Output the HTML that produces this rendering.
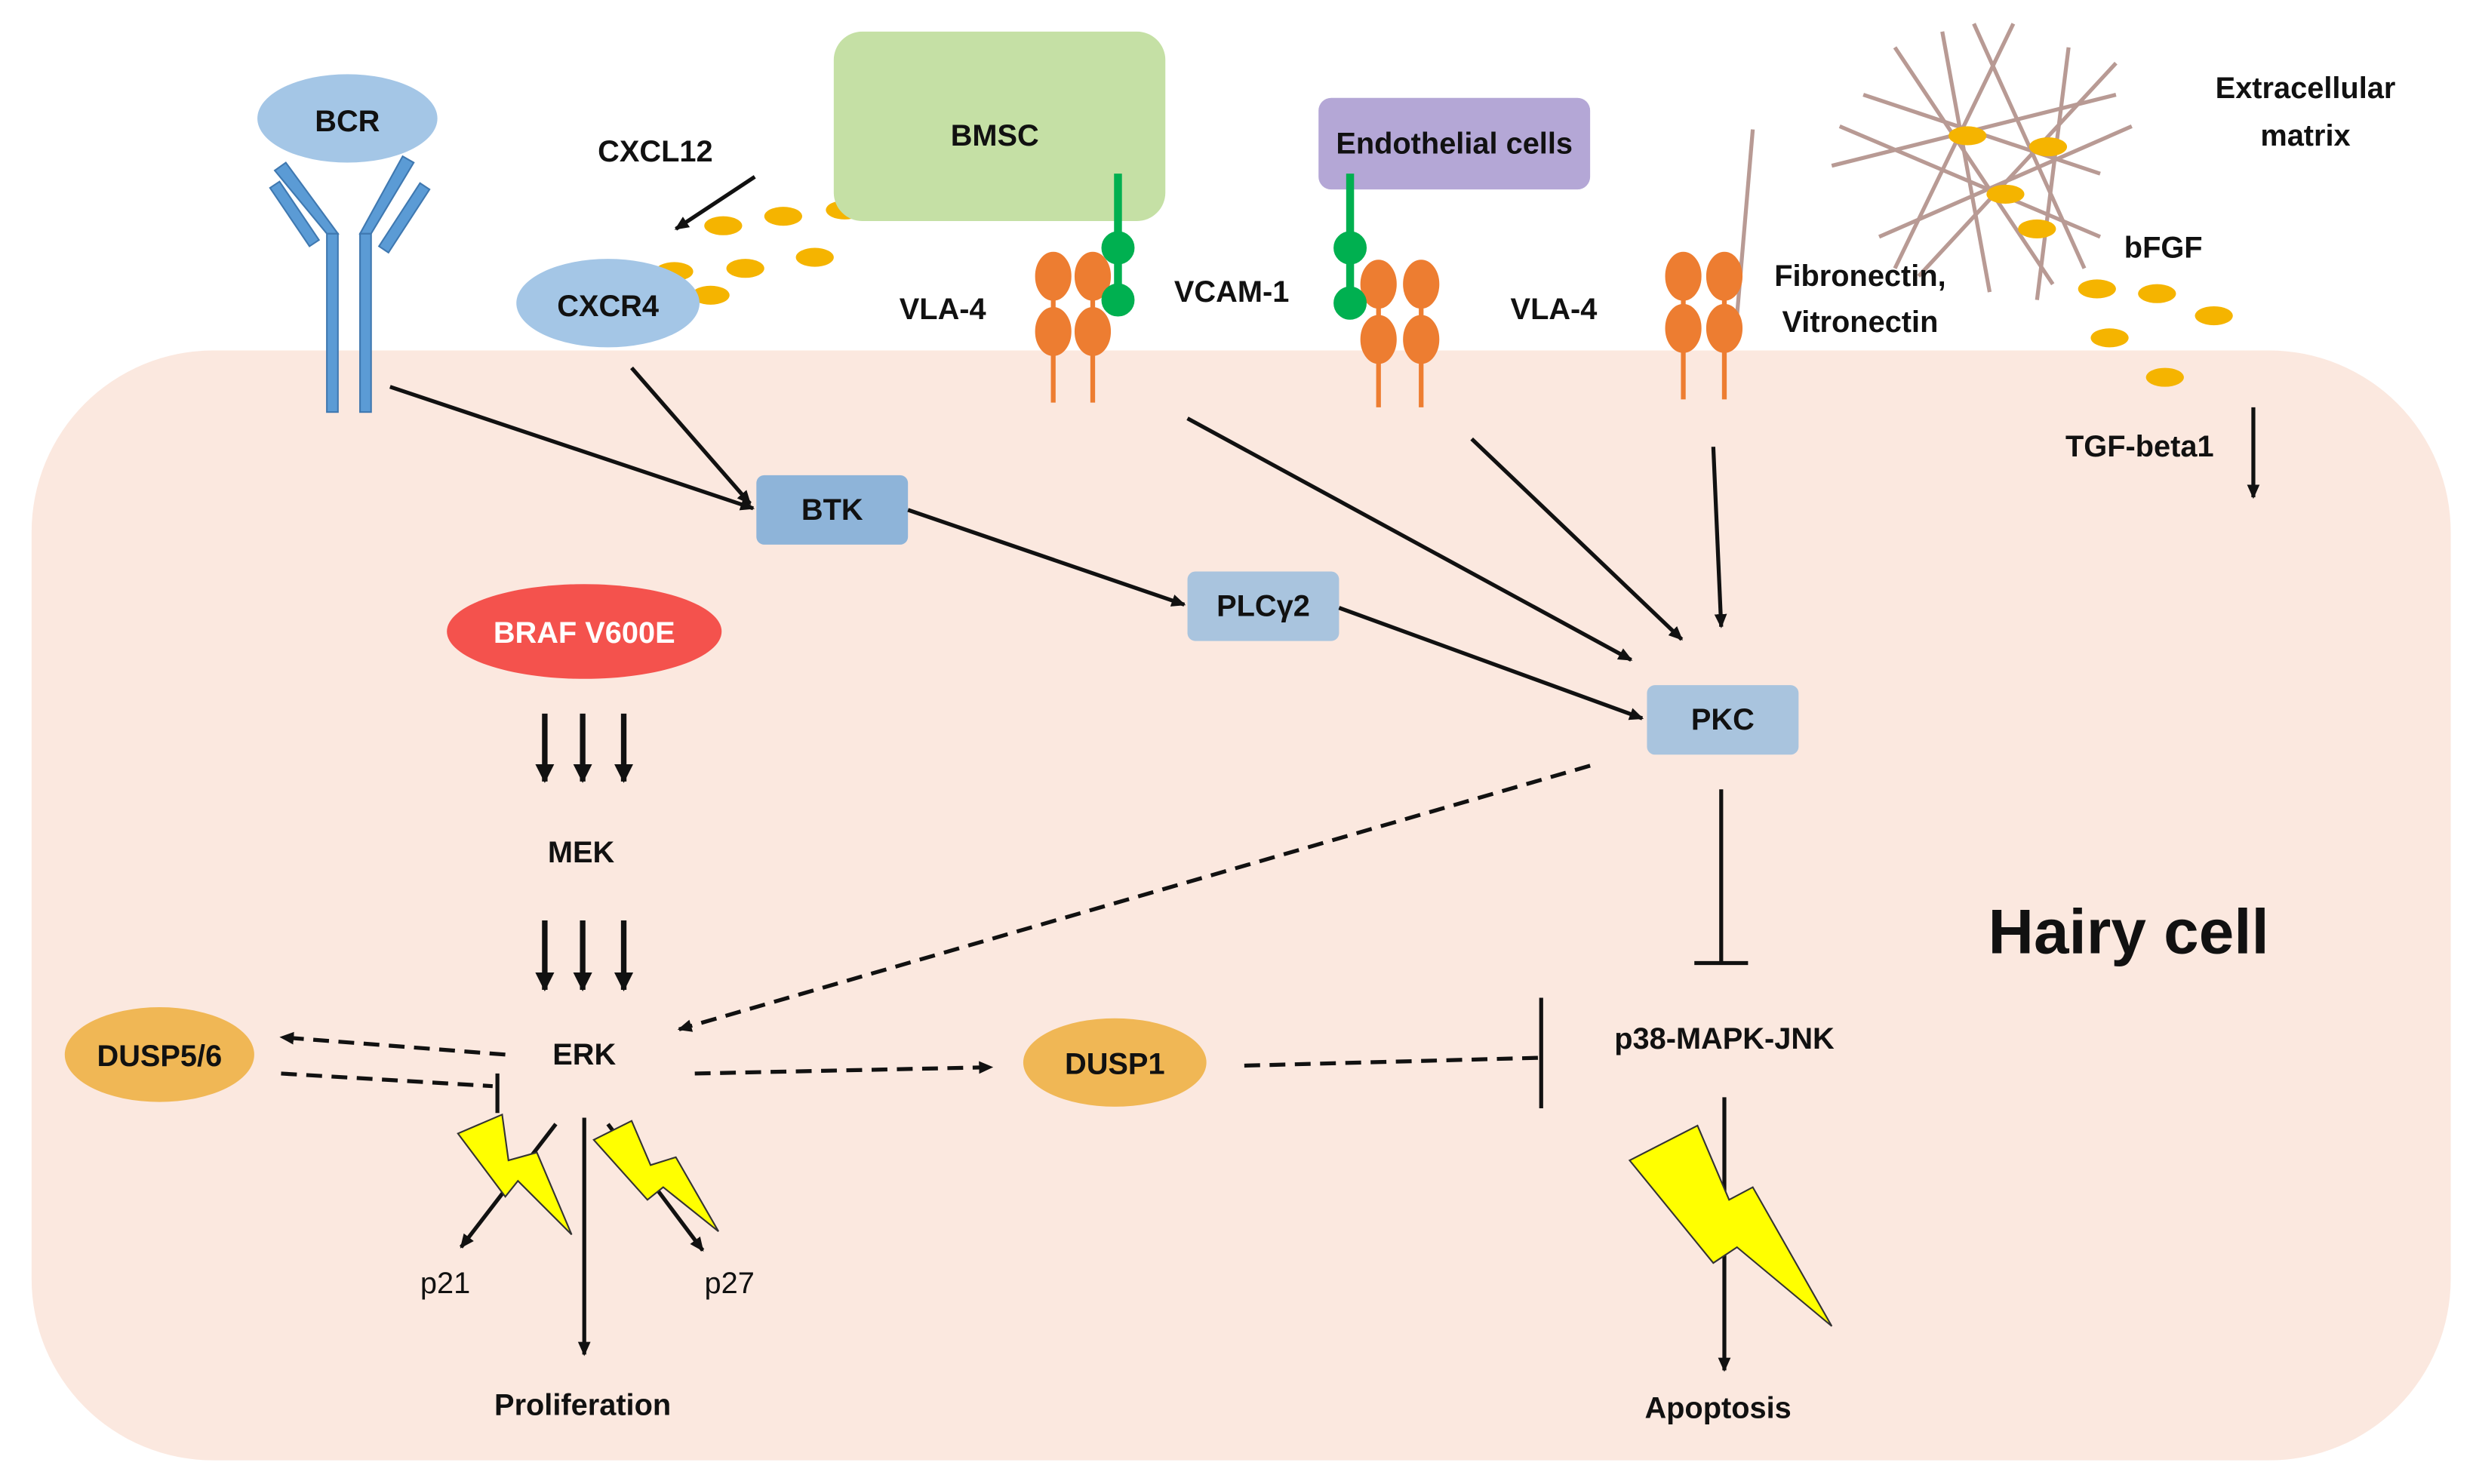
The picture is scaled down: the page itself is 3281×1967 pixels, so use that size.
<!DOCTYPE html>
<html><head><meta charset="utf-8"><style>
html,body{margin:0;padding:0;background:#fff;}
svg{display:block;}
text{font-family:"Liberation Sans",sans-serif;font-weight:bold;font-size:19px;fill:#111;text-anchor:middle;dominant-baseline:central;}
</style></head><body>
<svg width="3281" height="1967" viewBox="0 0 1568 940" preserveAspectRatio="none" xmlns="http://www.w3.org/2000/svg">
<defs>
<marker id="a" markerWidth="10" markerHeight="10" refX="8" refY="5" orient="auto" markerUnits="userSpaceOnUse"><path d="M0,1 L9,5 L0,9 z" fill="#111"/></marker>
<marker id="b" markerWidth="14" markerHeight="14" refX="11" refY="7" orient="auto" markerUnits="userSpaceOnUse"><path d="M0,1 L12,7 L0,13 z" fill="#111"/></marker>
</defs>
<rect x="0" y="0" width="1568" height="940" fill="#fff"/>
<rect x="20" y="222" width="1532" height="703" rx="115" fill="#fbe8df"/>

<g stroke="#b89a94" stroke-width="2.5">
<line x1="1160" y1="105" x2="1340" y2="60"/><line x1="1200" y1="30" x2="1300" y2="180"/>
<line x1="1230" y1="20" x2="1260" y2="185"/><line x1="1275" y1="15" x2="1200" y2="170"/>
<line x1="1190" y1="150" x2="1350" y2="80"/><line x1="1165" y1="80" x2="1330" y2="150"/>
<line x1="1310" y1="30" x2="1290" y2="190"/><line x1="1180" y1="60" x2="1330" y2="110"/>
<line x1="1250" y1="15" x2="1320" y2="170"/><line x1="1215" y1="175" x2="1340" y2="40"/>
<line x1="1110" y1="82" x2="1100" y2="200"/>
</g>
<g fill="#f5b400">
<ellipse cx="1246" cy="86" rx="12" ry="6"/><ellipse cx="1297" cy="93" rx="12" ry="6"/>
<ellipse cx="1270" cy="123" rx="12" ry="6"/><ellipse cx="1290" cy="145" rx="12" ry="6"/>
<ellipse cx="1328" cy="183" rx="12" ry="6"/><ellipse cx="1366" cy="186" rx="12" ry="6"/>
<ellipse cx="1402" cy="200" rx="12" ry="6"/><ellipse cx="1336" cy="214" rx="12" ry="6"/>
<ellipse cx="1371" cy="239" rx="12" ry="6"/>
<ellipse cx="535" cy="133" rx="12" ry="6"/><ellipse cx="496" cy="137" rx="12" ry="6"/>
<ellipse cx="458" cy="143" rx="12" ry="6"/><ellipse cx="516" cy="163" rx="12" ry="6"/>
<ellipse cx="472" cy="170" rx="12" ry="6"/><ellipse cx="427" cy="172" rx="12" ry="6"/>
<ellipse cx="450" cy="187" rx="12" ry="6"/>
</g>

<rect x="528" y="20" width="210" height="120" rx="18" fill="#c5e0a5"/>
<text x="630" y="86">BMSC</text>
<rect x="835" y="62" width="172" height="58" rx="8" fill="#b4a7d6"/>
<text x="921" y="91">Endothelial cells</text>

<ellipse cx="220" cy="75" rx="57" ry="28" fill="#a4c6e6"/>
<text x="220" y="77">BCR</text>
<g fill="#5b9bd5" stroke="#3f78b0" stroke-width="1">
<rect x="207" y="148" width="7" height="113"/><rect x="228" y="148" width="7" height="113"/>
<polygon points="207,148 214,148 181,103 174,108"/><polygon points="196,156 202,152 177,115 171,119"/>
<polygon points="228,148 235,148 262,103 255,99"/><polygon points="240,156 246,160 272,120 266,116"/>
</g>

<ellipse cx="385" cy="192" rx="58" ry="28" fill="#a4c6e6"/>
<text x="385" y="194">CXCR4</text>
<text x="415" y="96">CXCL12</text>

<g fill="#ed7d31" stroke="#ed7d31">
<g stroke-width="3"><line x1="667" y1="190" x2="667" y2="255"/><line x1="692" y1="190" x2="692" y2="255"/>
<line x1="873" y1="195" x2="873" y2="258"/><line x1="900" y1="195" x2="900" y2="258"/>
<line x1="1066" y1="190" x2="1066" y2="253"/><line x1="1092" y1="190" x2="1092" y2="253"/></g>
<ellipse cx="667" cy="175" rx="11" ry="15"/><ellipse cx="667" cy="210" rx="11" ry="15"/>
<ellipse cx="692" cy="175" rx="11" ry="15"/><ellipse cx="692" cy="210" rx="11" ry="15"/>
<ellipse cx="873" cy="180" rx="11" ry="15"/><ellipse cx="873" cy="215" rx="11" ry="15"/>
<ellipse cx="900" cy="180" rx="11" ry="15"/><ellipse cx="900" cy="215" rx="11" ry="15"/>
<ellipse cx="1066" cy="175" rx="11" ry="15"/><ellipse cx="1066" cy="208" rx="11" ry="15"/>
<ellipse cx="1092" cy="175" rx="11" ry="15"/><ellipse cx="1092" cy="208" rx="11" ry="15"/>
</g>
<g fill="#00b050" stroke="#00b050">
<line x1="708" y1="110" x2="708" y2="190" stroke-width="5"/>
<circle cx="708" cy="157" r="10"/><circle cx="708" cy="190" r="10"/>
<line x1="855" y1="110" x2="855" y2="192" stroke-width="5"/>
<circle cx="855" cy="157" r="10"/><circle cx="855" cy="192" r="10"/>
</g>
<text x="597" y="196">VLA-4</text>
<text x="780" y="185">VCAM-1</text>
<text x="984" y="196">VLA-4</text>
<text x="1178" y="175">Fibronectin,</text>
<text x="1178" y="204">Vitronectin</text>
<text x="1460" y="56">Extracellular</text>
<text x="1460" y="86">matrix</text>
<text x="1370" y="157">bFGF</text>
<text x="1355" y="283">TGF-beta1</text>

<rect x="479" y="301" width="96" height="44" rx="5" fill="#8eb4d9"/><text x="527" y="323">BTK</text>
<rect x="752" y="362" width="96" height="44" rx="5" fill="#a9c4de"/><text x="800" y="384">PLCγ2</text>
<rect x="1043" y="434" width="96" height="44" rx="5" fill="#a9c4de"/><text x="1091" y="456">PKC</text>
<ellipse cx="370" cy="400" rx="87" ry="30" fill="#f4524d"/><text x="370" y="401" style="fill:#fff">BRAF V600E</text>
<ellipse cx="706" cy="673" rx="58" ry="28" fill="#f0b755"/><text x="706" y="674">DUSP1</text>
<ellipse cx="101" cy="668" rx="60" ry="30" fill="#f0b755"/><text x="101" y="669">DUSP5/6</text>

<text x="368" y="540">MEK</text>
<text x="370" y="668">ERK</text>
<text x="1092" y="658">p38-MAPK-JNK</text>
<text x="369" y="890">Proliferation</text>
<text x="1088" y="892">Apoptosis</text>
<text x="282" y="813" style="font-weight:normal">p21</text>
<text x="462" y="813" style="font-weight:normal">p27</text>
<text x="1348" y="590" style="font-size:40px">Hairy cell</text>

<g stroke="#111" stroke-width="2.5" fill="none" marker-end="url(#a)">
<line x1="478" y1="112" x2="428" y2="145"/>
<line x1="247" y1="245" x2="477" y2="322"/>
<line x1="400" y1="233" x2="475" y2="319"/>
<line x1="575" y1="323" x2="750" y2="383"/>
<line x1="848" y1="385" x2="1040" y2="455"/>
<line x1="752" y1="265" x2="1033" y2="418"/>
<line x1="932" y1="278" x2="1065" y2="405"/>
<line x1="1085" y1="283" x2="1090" y2="397"/>
<line x1="1427" y1="258" x2="1427" y2="315"/>
<line x1="352" y1="712" x2="292" y2="790"/>
<line x1="370" y1="708" x2="370" y2="858"/>
<line x1="385" y1="712" x2="445" y2="792"/>
<line x1="1092" y1="695" x2="1092" y2="868"/>
</g>
<g stroke="#111" stroke-width="3.5" fill="none" marker-end="url(#b)">
<line x1="345" y1="452" x2="345" y2="495"/><line x1="369" y1="452" x2="369" y2="495"/><line x1="395" y1="452" x2="395" y2="495"/>
<line x1="345" y1="583" x2="345" y2="627"/><line x1="369" y1="583" x2="369" y2="627"/><line x1="395" y1="583" x2="395" y2="627"/>
</g>
<g stroke="#111" stroke-width="2.5" fill="none" stroke-dasharray="10,6">
<line x1="1007" y1="485" x2="430" y2="652" marker-end="url(#a)"/>
<line x1="440" y1="680" x2="628" y2="676" marker-end="url(#a)"/>
<line x1="320" y1="668" x2="178" y2="657" marker-end="url(#a)"/>
<line x1="178" y1="680" x2="312" y2="688"/>
<line x1="788" y1="675" x2="976" y2="670"/>
</g>
<g stroke="#111" stroke-width="2.5">
<line x1="315" y1="680" x2="315" y2="705"/>
<line x1="1090" y1="500" x2="1090" y2="610"/><line x1="1073" y1="610" x2="1107" y2="610"/>
<line x1="976" y1="632" x2="976" y2="702"/>
</g>
<g fill="#ffff00" stroke="#333" stroke-width="1">
<polygon points="290,718 318,706 322,735 340,730 362,782 328,748 320,758"/>
<polygon points="376,722 400,710 412,738 428,733 455,780 420,752 410,760"/>
<polygon points="1032,735 1075,713 1095,760 1110,752 1160,840 1100,790 1085,800"/>
</g>
</svg>
</body></html>
